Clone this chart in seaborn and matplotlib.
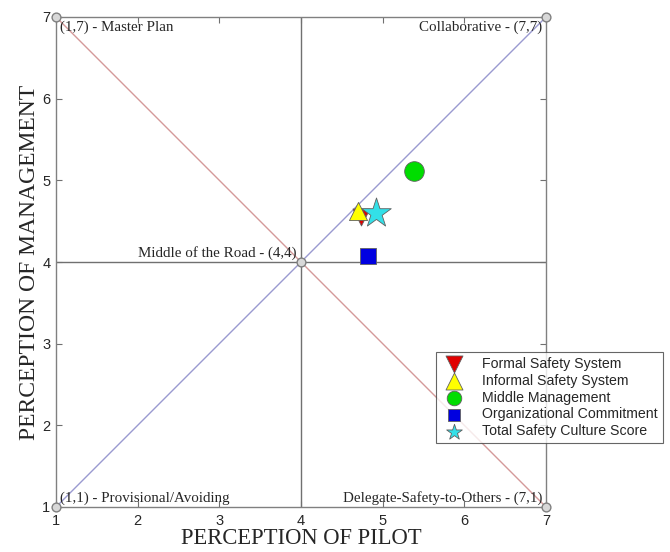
import pandas as pd
import numpy as np
import matplotlib
matplotlib.use('Agg')
import matplotlib.pyplot as plt
import seaborn as sns

# survey scores (pilot perception, management perception)
categories = ['Formal Safety System', 'Informal Safety System', 'Middle Management',
              'Organizational Commitment', 'Total Safety Culture Score']
pilot = [4.74, 4.70, 5.38, 4.82, 4.92]
management = [4.55, 4.62, 5.11, 4.07, 4.60]

# reference points of the grid
corner_x = [1, 1, 7, 7, 4]
corner_y = [1, 7, 7, 1, 4]
corner_labels = ['(1,1) - Provisional/Avoiding', '(1,7) - Master Plan', 'Collaborative - (7,7)',
                 'Delegate-Safety-to-Others - (7,1)', 'Middle of the Road - (4,4)']
ticks = [1, 2, 3, 4, 5, 6, 7]

df = pd.DataFrame({'Category': categories, 'Pilot': pilot, 'Management': management})

sns.set_style('white')
plt.rcParams['font.family'] = ['Liberation Sans', 'DejaVu Sans']

fig = plt.figure(figsize=(6.7, 5.52), dpi=100)
ax = fig.add_axes([56 / 670, 1 - 507 / 552, 490 / 670, 490 / 552])

# quadrant lines and diagonals
ax.plot([4, 4], [1, 7], color='#707070', lw=1.0, zorder=1)
ax.plot([1, 7], [4, 4], color='#707070', lw=1.0, zorder=1)
ax.plot([1, 7], [1, 7], color='#9a9ad0', lw=1.0, zorder=1)
ax.plot([1, 7], [7, 1], color='#d49a9a', lw=1.0, zorder=1)
ax.scatter(corner_x, corner_y, s=40, facecolor='#d8d8d8', edgecolor='#808080', lw=1.0,
           zorder=3, clip_on=False)

palette = {'Formal Safety System': '#e00000', 'Informal Safety System': '#ffff00',
           'Middle Management': '#00dd00', 'Organizational Commitment': '#0000e0',
           'Total Safety Culture Score': '#33e0e8'}
markers = {'Formal Safety System': 'v', 'Informal Safety System': '^',
           'Middle Management': 'o', 'Organizational Commitment': 's',
           'Total Safety Culture Score': '*'}
sizes = {'Formal Safety System': 150, 'Informal Safety System': 170,
         'Middle Management': 200, 'Organizational Commitment': 130,
         'Total Safety Culture Score': 500}
legend_sizes = [150, 150, 110, 70, 140]

for cat in categories:
    sub = df[df['Category'] == cat]
    sns.scatterplot(data=sub, x='Pilot', y='Management', color=palette[cat],
                    marker=markers[cat], s=sizes[cat], edgecolor='#606060', linewidth=0.6,
                    ax=ax, label=cat, zorder=4)

# corner annotations
serif = ['Liberation Serif', 'DejaVu Serif']
fs = 10.8
ax.text(1.05, 6.96, corner_labels[1], family=serif, fontsize=fs, va='top', ha='left')
ax.text(6.95, 6.96, corner_labels[2], family=serif, fontsize=fs, va='top', ha='right')
ax.text(1.05, 1.03, corner_labels[0], family=serif, fontsize=fs, va='bottom', ha='left')
ax.text(6.95, 1.03, corner_labels[3], family=serif, fontsize=fs, va='bottom', ha='right')
ax.text(3.95, 4.03, corner_labels[4], family=serif, fontsize=fs, va='bottom', ha='right')

ax.set_xlim(1, 7)
ax.set_ylim(1, 7)
ax.set_xticks(ticks)
ax.set_yticks(ticks)
ax.set_xticklabels([str(t) for t in ticks], fontsize=10.5)
ax.set_yticklabels([str(t) for t in ticks], fontsize=10.5)
ax.tick_params(direction='in', length=4, color='#707070', top=True, right=True,
               bottom=True, left=True)
ax.tick_params(axis='x', pad=5)
ax.tick_params(axis='y', pad=4)
for sp in ax.spines.values():
    sp.set_color('#808080')
    sp.set_linewidth(1.0)

ax.set_xlabel('PERCEPTION OF PILOT', family=serif, fontsize=16.3, labelpad=0)
ax.set_ylabel('PERCEPTION OF MANAGEMENT', family=serif, fontsize=17, labelpad=2)

leg = ax.legend(loc='upper left', bbox_to_anchor=(436 / 670, 1 - 352 / 552),
                bbox_transform=fig.transFigure, fontsize=10.2, frameon=True, fancybox=False,
                borderpad=0.35, labelspacing=0.2, handletextpad=1.1, handlelength=1.8,
                borderaxespad=0)
for h, s in zip(leg.legend_handles, legend_sizes):
    h.set_sizes([s])
leg.get_frame().set_edgecolor('#404040')
leg.get_frame().set_linewidth(0.8)
leg.set_zorder(10)

fig.savefig('out.png', dpi=100)
